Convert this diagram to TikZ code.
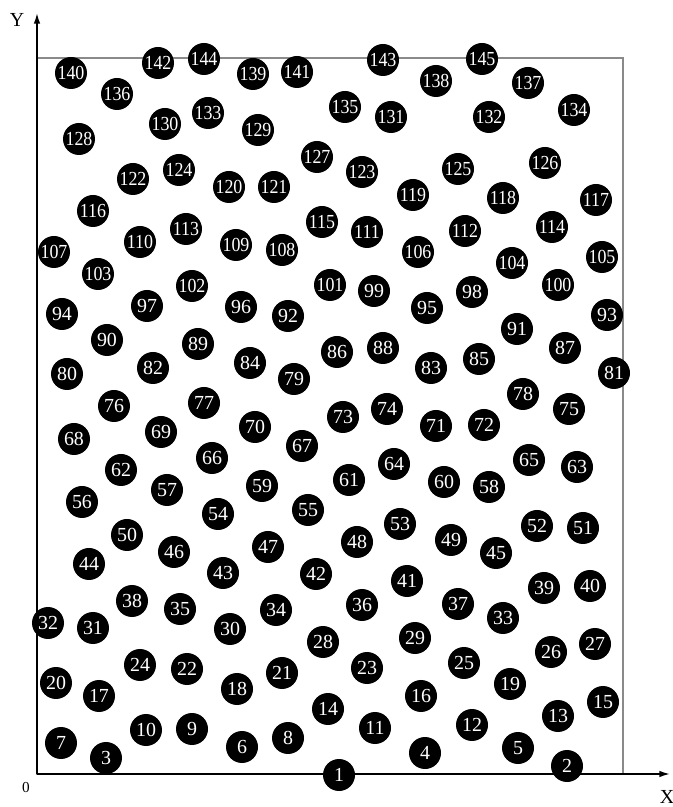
\documentclass[tikz,border=0pt]{standalone}
\usepackage{fontspec}
\setmainfont{Liberation Serif}
\usepackage{graphicx}
\usetikzlibrary{arrows.meta}
\definecolor{framegray}{HTML}{8A8A8A}

\begin{document}
\begin{tikzpicture}[x=0.03cm, y=0.03cm,
    ball/.style={circle, fill=black, text=white, inner sep=0pt, minimum size=0.96cm,
                 font=\fontsize{17}{17}\selectfont},
    axis/.style={line width=1.3pt, -{Latex[length=9pt, width=5.5pt]}}]
  \useasboundingbox (-37,-33) rectangle (636,774);
  % area and axes
  \draw[framegray, line width=0.9pt] (0,0) rectangle (586,716);
  \coordinate (o) at (0,0);
  \coordinate (xend) at (633,0);
  \coordinate (yend) at (0,761);
  \draw[axis] (o) -- (xend);
  \draw[axis] (o) -- (yend);
  \node[font=\fontsize{17}{17}\selectfont] (xl) at (630,-23) {X};
  \node[font=\fontsize{17}{17}\selectfont] (yl) at (-20,754) {Y};
  \node[font=\fontsize{13}{13}\selectfont] (ol) at (-11,-14) {0};
  % points
  \foreach \x/\y/\n in {302/-1/1, 530/8/2, 69/16/3, 388/21/4, 481/26/5, 205/27/6, 24/31/7, 251/36/8,
      155/45/9, 109/44/10, 338/46/11, 435/49/12, 521/58/13, 291/65/14, 566/72/15, 384/78/16,
      62/78/17, 200/85/18, 473/90/19, 19/91/20, 245/101/21, 150/105/22, 330/106/23, 103/109/24,
      427/111/25, 514/122/26, 558/130/27, 286/132/28, 378/136/29, 193/145/30, 56/146/31, 11/151/32,
      466/156/33, 239/164/34, 143/165/35, 325/169/36, 421/170/37, 95/173/38, 507/186/39, 553/188/40,
      370/193/41, 279/200/42, 186/201/43, 52/210/44, 459/221/45, 137/222/46, 231/227/47, 320/232/48,
      414/234/49, 90/239/50, 546/246/51, 500/248/52, 363/250/53, 181/260/54, 271/264/55, 45/272/56,
      130/284/57, 452/287/58, 225/288/59, 407/292/60, 312/294/61, 84/304/62, 540/307/63, 357/310/64,
      492/314/65, 175/316/66, 265/328/67, 37/335/68, 124/342/69, 218/347/70, 399/348/71, 447/349/72,
      306/357/73, 350/365/74, 532/365/75, 77/368/76, 167/371/77, 486/380/78, 257/395/79, 30/400/80,
      577/401/81, 116/406/82, 394/406/83, 213/411/84, 442/415/85, 300/422/86, 528/426/87, 346/426/88,
      161/430/89, 70/434/90, 480/445/91, 251/458/92, 570/459/93, 25/460/94, 390/466/95, 204/467/96,
      110/468/97, 435/482/98, 337/483/99, 521/489/100, 293/489/101, 155/488/102, 61/500/103,
      475/511/104, 565/517/105, 381/522/106, 17/522/107, 245/524/108, 199/529/109, 103/532/110,
      330/542/111, 428/543/112, 149/545/113, 515/547/114, 285/552/115, 56/563/116, 559/574/117,
      466/576/118, 376/579/119, 192/587/120, 237/587/121, 96/595/122, 325/602/123, 142/604/124,
      421/605/125, 508/611/126, 280/617/127, 42/635/128, 221/644/129, 128/650/130, 354/657/131,
      452/657/132, 171/661/133, 537/664/134, 308/667/135, 80/680/136, 491/691/137, 399/693/138,
      216/700/139, 34/701/140, 260/702/141, 121/711/142, 346/714/143, 167/715/144, 445/715/145}{
    \node[ball] (n\n) at (\x,\y) {\ifnum\n>99 \scalebox{0.9}[1]{\n}\else\n\fi};
  }
\end{tikzpicture}
\end{document}
